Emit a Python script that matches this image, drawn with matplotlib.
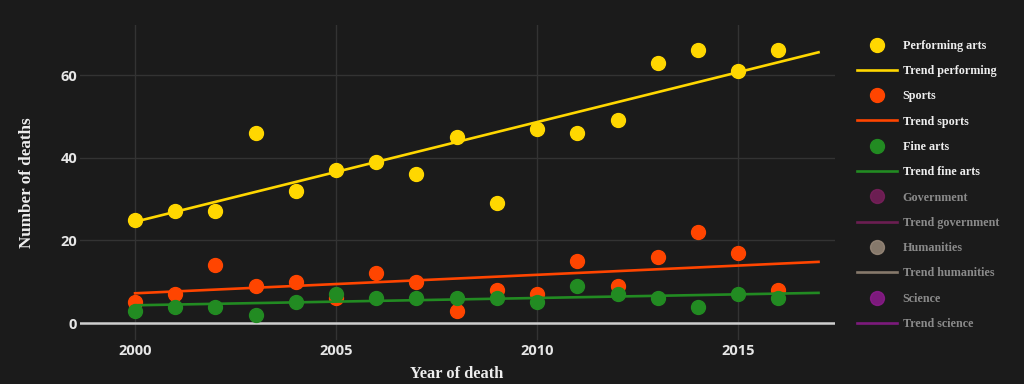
import matplotlib.pyplot as plt
from matplotlib.lines import Line2D

# Yearly counts
years = list(range(2000, 2017))
performing = [25, 27, 27, 46, 32, 37, 39, 36, 45, 29, 47, 46, 49, 63, 66, 61, 66]
sports = [5, 7, 14, 9, 10, 6, 12, 10, 3, 8, 7, 15, 9, 16, 22, 17, 8]
fine_arts = [3, 4, 4, 2, 5, 7, 6, 6, 6, 6, 5, 9, 7, 6, 4, 7, 6]

# Trend line end points (as drawn in the reference)
trend_years = [2000, 2017]
trend_performing = [24.5, 65.5]
trend_sports = [7.2, 14.8]
trend_fine_arts = [4.3, 7.3]

BG = "#1b1b1b"
serif = "Liberation Serif"

fig = plt.figure(figsize=(10.24, 3.84), dpi=100, facecolor=BG)
ax = fig.add_axes([80 / 1024, 44 / 384, 755 / 1024, 315 / 384], facecolor=BG)

shown = [
    ("Performing arts", "Trend performing", "#ffd700", performing, trend_performing),
    ("Sports", "Trend sports", "#ff4500", sports, trend_sports),
    ("Fine arts", "Trend fine arts", "#228b22", fine_arts, trend_fine_arts),
]
handles = []
for name, tname, color, values, trend in shown:
    ax.plot(years, values, "o", color=color, markersize=10, zorder=3)
    ax.plot(trend_years, trend, "-", color=color, linewidth=1.9, zorder=3)
    handles.append(Line2D([], [], marker="o", linestyle="none", color=color, markersize=10))
    handles.append(Line2D([], [], color=color, linewidth=1.9))

# traces switched off in the legend (shown dimmed)
hidden = [
    ("Government", "Trend government", "#7a1f5c"),
    ("Humanities", "Trend humanities", "#9a8a7a"),
    ("Science", "Trend science", "#8e1a8e"),
]
for name, tname, color in hidden:
    handles.append(Line2D([], [], marker="o", linestyle="none", color=color, markersize=10, alpha=0.85))
    handles.append(Line2D([], [], color=color, linewidth=1.9, alpha=0.85))

labels = []
for name, tname, _, _, _ in shown:
    labels += [name, tname]
for name, tname, _ in hidden:
    labels += [name, tname]

ax.set_xlim(1998.63, 2017.41)
ax.set_ylim(-4.1, 72.1)
ax.set_xticks([2000, 2005, 2010, 2015])
ax.set_yticks([0, 20, 40, 60])
ax.grid(True, color="#333333", linewidth=1)
ax.set_axisbelow(True)
ax.axhline(0, color="#cfcfcf", linewidth=1.8, zorder=2)
for s in ax.spines.values():
    s.set_visible(False)
ax.tick_params(length=0, colors="#e6e6e6", labelsize=10.5)
ax.tick_params(axis="x", pad=3)
ax.tick_params(axis="y", pad=2)
for lab in ax.get_xticklabels() + ax.get_yticklabels():
    lab.set_fontweight("bold")
    lab.set_fontfamily("Open Sans")

fig.text(27 / 1024, 0.525, "Number of deaths", rotation=90, ha="center", va="center",
         color="#eeeeee", fontsize=12.3, fontweight="bold", family=serif)
fig.text(457 / 1024, 2 / 384, "Year of death", ha="center", va="bottom",
         color="#eeeeee", fontsize=11.8, fontweight="bold", family=serif)

leg = fig.legend(handles, labels, loc="upper left", bbox_to_anchor=(852 / 1024, 1 - 35 / 384),
                 frameon=False, prop={"family": serif, "weight": "bold", "size": 8.7},
                 handlelength=3.3, handletextpad=0.5, labelspacing=1.1, borderaxespad=0)
for i, t in enumerate(leg.get_texts()):
    t.set_color("#eeeeee" if i < 6 else "#8a8a8a")

fig.savefig("out.png", dpi=100, facecolor=BG)
